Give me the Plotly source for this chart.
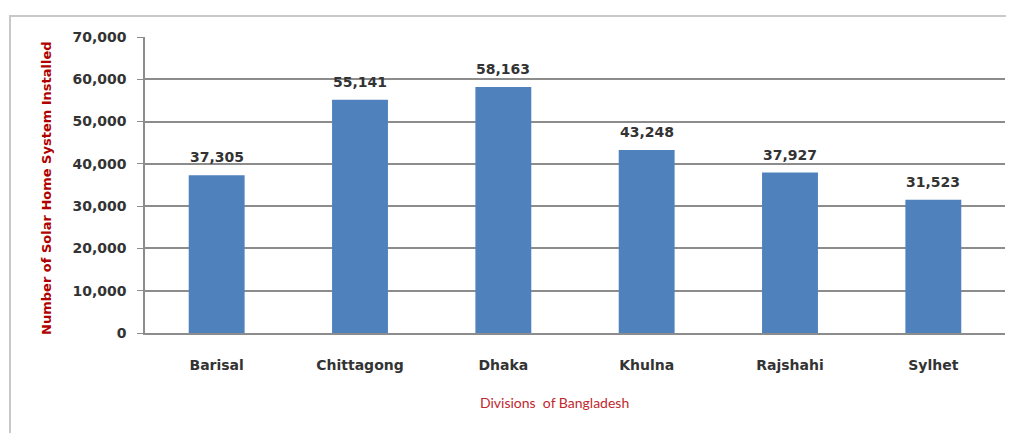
import plotly.graph_objects as go

divisions = ["Barisal", "Chittagong", "Dhaka", "Khulna", "Rajshahi", "Sylhet"]
installed = [37305, 55141, 58163, 43248, 37927, 31523]
y_ticks = [0, 10000, 20000, 30000, 40000, 50000, 60000, 70000]
y_tick_labels = ["0", "10,000", "20,000", "30,000", "40,000", "50,000", "60,000", "70,000"]

FONT = "'DejaVu Sans', sans-serif"
TXT = "#333333"

fig = go.Figure(go.Bar(
    x=divisions, y=installed,
    marker=dict(color="#4F81BD", line=dict(width=0)),
    width=0.39,
    hoverinfo="skip",
))

annotations = [
    dict(x=d, y=v, xref="x", yref="y", text=f"{v:,}", showarrow=False,
         yshift=18, font=dict(family=FONT, size=14, color=TXT, weight="bold"))
    for d, v in zip(divisions, installed)
]
annotations.append(dict(x=-0.114, y=0.49, xref="paper", yref="paper", textangle=-90,
                        xanchor="center", yanchor="middle",
                        text="Number of Solar Home System Installed", showarrow=False,
                        font=dict(family=FONT, size=13, color="#B00000", weight="bold")))
annotations.append(dict(x=0.4756, y=-0.236, xref="paper", yref="paper",
                        xanchor="center", yanchor="middle",
                        text="Divisions  of Bangladesh", showarrow=False,
                        font=dict(family="Lato, sans-serif", size=14, color="#C0282D")))

fig.update_layout(
    width=1006, height=425,
    margin=dict(l=137, r=9, t=29, b=100, autoexpand=False),
    paper_bgcolor="white", plot_bgcolor="white",
    showlegend=False,
    font=dict(family=FONT),
    xaxis=dict(
        showgrid=False, showline=True, linecolor="#8c8c8c", linewidth=1.5,
        ticks="", ticklabelstandoff=18,
        tickfont=dict(family=FONT, size=14, color=TXT, weight="bold"),
    ),
    yaxis=dict(
        range=[0, 70000], tickvals=y_ticks, ticktext=y_tick_labels,
        showgrid=True, gridcolor="#8c8c8c", gridwidth=1.5,
        showline=True, linecolor="#8c8c8c", linewidth=1.5,
        ticks="outside", ticklen=6, tickcolor="#8c8c8c", ticklabelstandoff=8,
        tickfont=dict(family=FONT, size=14, color=TXT, weight="bold"),
        zeroline=False,
    ),
    annotations=annotations,
    shapes=[dict(type="rect", xref="paper", yref="paper",
                 x0=-0.157, x1=1.02, y0=-0.4, y1=1.071,
                 line=dict(color="#c8c8c8", width=2), fillcolor="rgba(0,0,0,0)", layer="below")],
)

fig.write_html("out.html")
